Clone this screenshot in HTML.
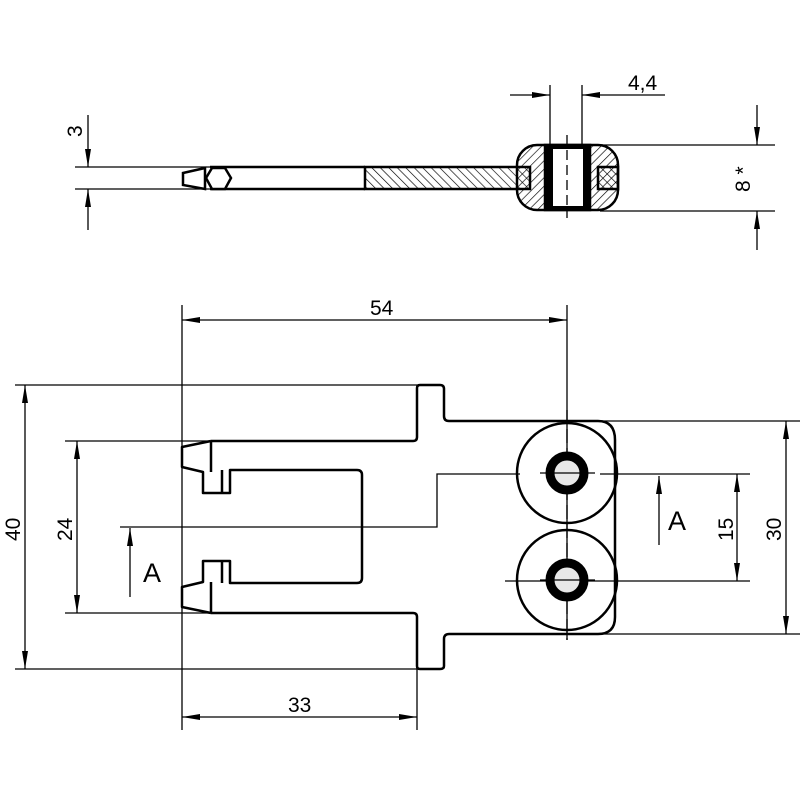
<!DOCTYPE html>
<html><head><meta charset="utf-8"><style>
html,body{margin:0;padding:0;background:#fff;width:800px;height:800px;overflow:hidden}
svg{display:block}
text{font-family:"Liberation Sans",sans-serif;font-size:21px;fill:#000}
</style></head><body>
<svg width="800" height="800" viewBox="0 0 800 800" xmlns="http://www.w3.org/2000/svg">
<defs>
<pattern id="h1" patternUnits="userSpaceOnUse" width="6" height="6" patternTransform="rotate(45)"><line x1="0" y1="0" x2="0" y2="6" stroke="#000" stroke-width="1.3"/></pattern>
<pattern id="h2" patternUnits="userSpaceOnUse" width="6" height="6" patternTransform="rotate(-45)"><line x1="0" y1="0" x2="0" y2="6" stroke="#000" stroke-width="1.3"/></pattern>
<marker id="a" viewBox="0 0 18 6" refX="18" refY="3" markerWidth="18" markerHeight="6" markerUnits="userSpaceOnUse" orient="auto-start-reverse"><path d="M0,0 L18,3 L0,6z" fill="#000"/></marker>
</defs>
<g stroke="#000" fill="none" stroke-width="1.3">
<line x1="75" y1="167" x2="210" y2="167"/><line x1="75" y1="189" x2="210" y2="189"/>
<line x1="88" y1="115" x2="88" y2="167" marker-end="url(#a)"/><line x1="88" y1="230" x2="88" y2="189" marker-end="url(#a)"/>
<line x1="550" y1="85" x2="550" y2="145"/><line x1="582" y1="85" x2="582" y2="145"/>
<line x1="510" y1="95" x2="550" y2="95" marker-end="url(#a)"/><line x1="665" y1="95" x2="582" y2="95" marker-end="url(#a)"/>
<line x1="600" y1="145" x2="775" y2="145"/><line x1="600" y1="211" x2="775" y2="211"/>
<line x1="757" y1="105" x2="757" y2="145" marker-end="url(#a)"/><line x1="757" y1="250" x2="757" y2="211" marker-end="url(#a)"/>
</g>
<g stroke="#000" stroke-width="2.5">
<rect x="365" y="167" width="165" height="22" fill="url(#h2)"/>
<line x1="210" y1="167" x2="365" y2="167"/><line x1="210" y1="189" x2="365" y2="189"/>
<rect x="517" y="145" width="101" height="65" rx="20" fill="url(#h1)"/>
<rect x="598" y="167" width="20" height="22" fill="url(#h2)"/>
<rect x="545" y="145" width="45" height="65" fill="#000"/>
<rect x="553" y="149" width="30" height="57" fill="#fff" stroke="none"/>
<path d="M183,173 L205,168 L205,189 L183,185Z" fill="#fff"/>
<path d="M212,168 L225,168 L231,178 L225,189 L212,189 L206,178Z" fill="#fff"/>
</g>
<line x1="567" y1="135" x2="567" y2="218" stroke="#000" stroke-width="1.3" stroke-dasharray="10,5"/>
<text x="628" y="90">4,4</text>
<text transform="translate(82,137) rotate(-90)">3</text>
<text transform="translate(750,192) rotate(-90)">8 *</text>

<g stroke="#000" fill="none" stroke-width="1.3">
<line x1="182" y1="305" x2="182" y2="730"/><line x1="567" y1="305" x2="567" y2="640"/>
<line x1="182" y1="320" x2="567" y2="320" marker-start="url(#a)" marker-end="url(#a)"/>
<line x1="15" y1="385" x2="420" y2="385"/><line x1="15" y1="669" x2="420" y2="669"/>
<line x1="25" y1="385" x2="25" y2="669" marker-start="url(#a)" marker-end="url(#a)"/>
<line x1="65" y1="441" x2="212" y2="441"/><line x1="65" y1="613" x2="212" y2="613"/>
<line x1="77" y1="441" x2="77" y2="613" marker-start="url(#a)" marker-end="url(#a)"/>
<line x1="417" y1="669" x2="417" y2="730"/>
<line x1="182" y1="717" x2="417" y2="717" marker-start="url(#a)" marker-end="url(#a)"/>
<line x1="600" y1="421" x2="800" y2="421"/><line x1="600" y1="634" x2="800" y2="634"/>
<line x1="786" y1="421" x2="786" y2="634" marker-start="url(#a)" marker-end="url(#a)"/>
<line x1="600" y1="474" x2="750" y2="474"/><line x1="505" y1="581" x2="750" y2="581"/>
<line x1="737" y1="474" x2="737" y2="581" marker-start="url(#a)" marker-end="url(#a)"/>
<polyline points="120,527 437,527 437,474 520,474"/>
<line x1="130" y1="597" x2="130" y2="528" marker-end="url(#a)"/>
<line x1="659" y1="545" x2="659" y2="476" marker-end="url(#a)"/>
<line x1="567" y1="410" x2="567" y2="640" stroke-dasharray="14,5"/>
</g>
<g stroke="#000" fill="none" stroke-width="2.5" stroke-linejoin="round">
<path d="M211,441 L413,441 Q417,441 417,437 L417,388 Q417,385 420,385 L440,385 Q444,385 444,389 L444,416 Q444,421 449,421 L598,421 Q615,421 615,440 L615,617 Q615,634 598,634 L449,634 Q444,634 444,639 L444,666 Q444,669 440,669 L420,669 Q417,669 417,666 L417,617 Q417,613 413,613 L211,613"/>
<path d="M211,441 L182,447 L182,467 L203,472 L203,493 L230,493 L230,470 L357,470 Q362,470 362,475 L362,578 Q362,583 357,583 L230,583 L230,561 L203,561 L203,582 L182,587 L182,607 L211,613"/>
<line x1="211" y1="441" x2="211" y2="472"/><line x1="222" y1="470" x2="222" y2="493"/>
<line x1="211" y1="582" x2="211" y2="613"/><line x1="222" y1="561" x2="222" y2="583"/>
<circle cx="567" cy="473" r="50"/>
<circle cx="567" cy="580" r="50"/>
</g>
<g stroke="#000" stroke-width="9">
<circle cx="567" cy="473" r="17" fill="#e8e8e8"/>
<circle cx="567" cy="580" r="17" fill="#e8e8e8"/>
</g>
<g stroke="#000" stroke-width="1.3">
<line x1="540" y1="473" x2="595" y2="473"/><line x1="540" y1="580" x2="595" y2="580"/>
</g>
<text x="370" y="315">54</text>
<text x="288" y="712">33</text>
<text transform="translate(20,541) rotate(-90)">40</text>
<text transform="translate(72,541) rotate(-90)">24</text>
<text transform="translate(733,541) rotate(-90)">15</text>
<text transform="translate(781,541) rotate(-90)">30</text>
<text x="143" y="582" style="font-size:27px">A</text>
<text x="668" y="530" style="font-size:27px">A</text>
</svg>
</body></html>
